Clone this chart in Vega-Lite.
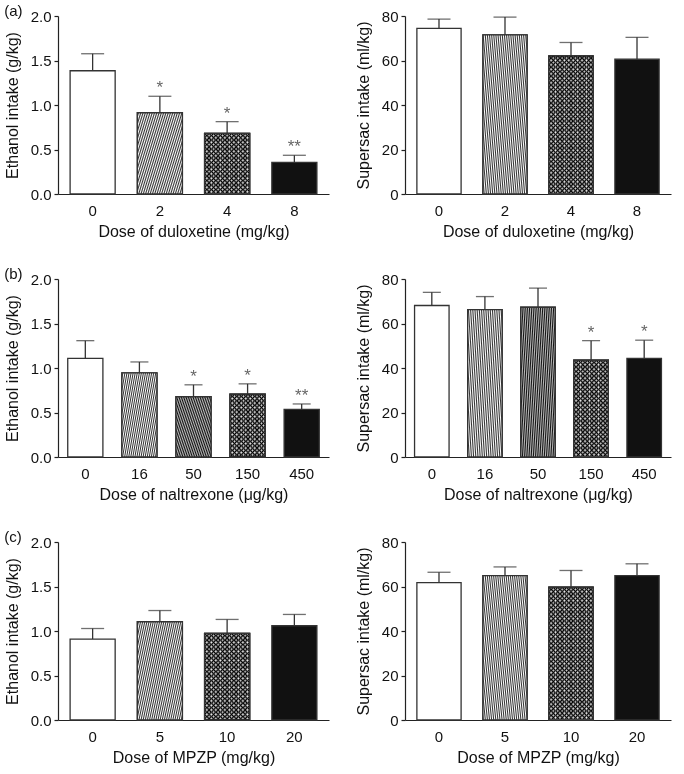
{
  "$schema": "https://vega.github.io/schema/vega-lite/v6.json",
  "padding": {"left": 4, "top": 4, "right": 2, "bottom": 2},
  "background": "white",
  "config": {
    "font": "Liberation Sans",
    "view": {"stroke": null},
    "axis": {"grid": false, "domainColor": "#222", "tickColor": "#222", "labelColor": "#111", "titleColor": "#111", "labelFontSize": 15, "titleFontSize": 16, "titleFontWeight": "normal", "labelFont": "Liberation Sans", "titleFont": "Liberation Sans", "domainWidth": 1.2, "tickWidth": 1.2},
    "axisX": {"ticks": false, "tickSize": 0, "labelPadding": 9, "titlePadding": 5, "labelAngle": 0},
    "axisY": {"tickSize": 4, "labelPadding": 3, "titlePadding": 10},
    "title": {"fontSize": 15, "fontWeight": "normal", "anchor": "start", "frame": "bounds", "color": "#111", "font": "Liberation Sans", "offset": -10}
  },
  "datasets": {
    "a_eth": [
      {"dose": "0", "mean": 1.385, "upper": 1.576, "star": ""},
      {"dose": "2", "mean": 0.913, "upper": 1.098, "star": "*"},
      {"dose": "4", "mean": 0.682, "upper": 0.813, "star": "*"},
      {"dose": "8", "mean": 0.356, "upper": 0.435, "star": "**"}
    ],
    "a_sup": [
      {"dose": "0", "mean": 74.4, "upper": 78.6, "star": ""},
      {"dose": "2", "mean": 71.5, "upper": 79.5, "star": ""},
      {"dose": "4", "mean": 62.1, "upper": 68.1, "star": ""},
      {"dose": "8", "mean": 60.6, "upper": 70.4, "star": ""}
    ],
    "b_eth": [
      {"dose": "0", "mean": 1.109, "upper": 1.307, "star": ""},
      {"dose": "16", "mean": 0.945, "upper": 1.068, "star": ""},
      {"dose": "50", "mean": 0.677, "upper": 0.811, "star": "*"},
      {"dose": "150", "mean": 0.707, "upper": 0.822, "star": "*"},
      {"dose": "450", "mean": 0.536, "upper": 0.596, "star": "**"}
    ],
    "b_sup": [
      {"dose": "0", "mean": 68.1, "upper": 74.0, "star": ""},
      {"dose": "16", "mean": 66.2, "upper": 72.1, "star": ""},
      {"dose": "50", "mean": 67.3, "upper": 75.9, "star": ""},
      {"dose": "150", "mean": 43.5, "upper": 52.3, "star": "*"},
      {"dose": "450", "mean": 44.3, "upper": 52.5, "star": "*"}
    ],
    "c_eth": [
      {"dose": "0", "mean": 0.909, "upper": 1.028, "star": ""},
      {"dose": "5", "mean": 1.104, "upper": 1.230, "star": ""},
      {"dose": "10", "mean": 0.973, "upper": 1.130, "star": ""},
      {"dose": "20", "mean": 1.059, "upper": 1.186, "star": ""}
    ],
    "c_sup": [
      {"dose": "0", "mean": 61.7, "upper": 66.4, "star": ""},
      {"dose": "5", "mean": 64.9, "upper": 68.8, "star": ""},
      {"dose": "10", "mean": 59.7, "upper": 67.2, "star": ""},
      {"dose": "20", "mean": 64.9, "upper": 70.2, "star": ""}
    ]
  },
  "spacing": 28,
  "resolve": {"scale": {"fill": "independent"}},
  "vconcat": [
    {
      "spacing": 26,
      "resolve": {"scale": {"fill": "independent"}},
      "hconcat": [
        {
          "width": 271, "height": 178,
          "title": {"text": "(a)"},
          "data": {"name": "a_eth"},
          "encoding": {"x": {"field": "dose", "type": "ordinal", "sort": null, "title": "Dose of duloxetine (mg/kg)", "scale": {"paddingInner": 0.33, "paddingOuter": 0.18}}},
          "layer": [
            {"mark": {"type": "rule", "color": "#333", "strokeWidth": 1.3}, "encoding": {"y": {"field": "mean", "type": "quantitative", "scale": {"domain": [0, 2]}, "title": "Ethanol intake (g/kg)"}, "y2": {"field": "upper"}}},
            {"mark": {"type": "tick", "color": "#333", "thickness": 1.3, "size": 23}, "encoding": {"y": {"field": "upper", "type": "quantitative", "scale": {"domain": [0, 2]}, "title": "Ethanol intake (g/kg)"}}},
            {"mark": {"type": "bar", "stroke": "#333", "strokeWidth": 1.3}, "encoding": {"y": {"field": "mean", "type": "quantitative", "scale": {"domain": [0, 2]}, "title": "Ethanol intake (g/kg)", "axis": {"values": [0, 0.5, 1, 1.5, 2], "format": ".1f"}}, "fill": {"field": "dose", "type": "nominal", "sort": null, "scale": {"range": ["#ffffff", "#a0a0a0", "#6b6b6b", "#111111"]}, "legend": null}}},
            {"transform": [{"filter": "datum.dose == '2'"}], "mark": {"type": "bar", "stroke": "#333", "strokeWidth": 1.3, "fill": {"gradient": "linear", "x1": 0, "y1": 0, "x2": 1.942, "y2": 1.076, "stops": [
              {"offset":0,"color":"#fff"},{"offset":0.01,"color":"#333"},{"offset":0.02,"color":"#fff"},{"offset":0.03,"color":"#333"},{"offset":0.04,"color":"#fff"},{"offset":0.05,"color":"#333"},{"offset":0.06,"color":"#fff"},{"offset":0.07,"color":"#333"},{"offset":0.08,"color":"#fff"},{"offset":0.09,"color":"#333"},
              {"offset":0.1,"color":"#fff"},{"offset":0.11,"color":"#333"},{"offset":0.12,"color":"#fff"},{"offset":0.13,"color":"#333"},{"offset":0.14,"color":"#fff"},{"offset":0.15,"color":"#333"},{"offset":0.16,"color":"#fff"},{"offset":0.17,"color":"#333"},{"offset":0.18,"color":"#fff"},{"offset":0.19,"color":"#333"},
              {"offset":0.2,"color":"#fff"},{"offset":0.21,"color":"#333"},{"offset":0.22,"color":"#fff"},{"offset":0.23,"color":"#333"},{"offset":0.24,"color":"#fff"},{"offset":0.25,"color":"#333"},{"offset":0.26,"color":"#fff"},{"offset":0.27,"color":"#333"},{"offset":0.28,"color":"#fff"},{"offset":0.29,"color":"#333"},
              {"offset":0.3,"color":"#fff"},{"offset":0.31,"color":"#333"},{"offset":0.32,"color":"#fff"},{"offset":0.33,"color":"#333"},{"offset":0.34,"color":"#fff"},{"offset":0.35,"color":"#333"},{"offset":0.36,"color":"#fff"},{"offset":0.37,"color":"#333"},{"offset":0.38,"color":"#fff"},{"offset":0.39,"color":"#333"},
              {"offset":0.4,"color":"#fff"},{"offset":0.41,"color":"#333"},{"offset":0.42,"color":"#fff"},{"offset":0.43,"color":"#333"},{"offset":0.44,"color":"#fff"},{"offset":0.45,"color":"#333"},{"offset":0.46,"color":"#fff"},{"offset":0.47,"color":"#333"},{"offset":0.48,"color":"#fff"},{"offset":0.49,"color":"#333"},
              {"offset":0.5,"color":"#fff"},{"offset":0.51,"color":"#333"},{"offset":0.52,"color":"#fff"},{"offset":0.53,"color":"#333"},{"offset":0.54,"color":"#fff"},{"offset":0.55,"color":"#333"},{"offset":0.56,"color":"#fff"},{"offset":0.57,"color":"#333"},{"offset":0.58,"color":"#fff"},{"offset":0.59,"color":"#333"},
              {"offset":0.6,"color":"#fff"},{"offset":0.61,"color":"#333"},{"offset":0.62,"color":"#fff"},{"offset":0.63,"color":"#333"},{"offset":0.64,"color":"#fff"},{"offset":0.65,"color":"#333"},{"offset":0.66,"color":"#fff"},{"offset":0.67,"color":"#333"},{"offset":0.68,"color":"#fff"},{"offset":0.69,"color":"#333"},
              {"offset":0.7,"color":"#fff"},{"offset":0.71,"color":"#333"},{"offset":0.72,"color":"#fff"},{"offset":0.73,"color":"#333"},{"offset":0.74,"color":"#fff"}
            ]}}, "encoding": {"y": {"field": "mean", "type": "quantitative", "scale": {"domain": [0, 2]}, "title": "Ethanol intake (g/kg)"}}},
            {"transform": [{"filter": "datum.dose == '4'"}], "mark": {"type": "bar", "stroke": "#333", "strokeWidth": 1.3, "fill": {"gradient": "linear", "x1": 0, "y1": 0, "x2": 1, "y2": 0, "stops": [
              {"offset":0,"color":"#000"},{"offset":0.05,"color":"#fff"},{"offset":0.1,"color":"#000"},{"offset":0.15,"color":"#fff"},{"offset":0.2,"color":"#000"},{"offset":0.25,"color":"#fff"},{"offset":0.3,"color":"#000"},{"offset":0.35,"color":"#fff"},{"offset":0.4,"color":"#000"},{"offset":0.45,"color":"#fff"},
              {"offset":0.5,"color":"#000"},{"offset":0.55,"color":"#fff"},{"offset":0.6,"color":"#000"},{"offset":0.65,"color":"#fff"},{"offset":0.7,"color":"#000"},{"offset":0.75,"color":"#fff"},{"offset":0.8,"color":"#000"},{"offset":0.85,"color":"#fff"},{"offset":0.9,"color":"#000"},{"offset":0.95,"color":"#fff"},{"offset":1,"color":"#000"}
            ]}}, "encoding": {"y": {"field": "mean", "type": "quantitative", "scale": {"domain": [0, 2]}, "title": "Ethanol intake (g/kg)"}}},
            {"transform": [{"filter": "datum.dose == '4'"}], "mark": {"type": "bar", "blend": "difference", "fill": {"gradient": "linear", "x1": 0, "y1": 0, "x2": 0, "y2": 3.707, "stops": [
              {"offset":0,"color":"#000"},{"offset":0.01,"color":"#ddd"},{"offset":0.02,"color":"#000"},{"offset":0.03,"color":"#ddd"},{"offset":0.04,"color":"#000"},{"offset":0.05,"color":"#ddd"},{"offset":0.06,"color":"#000"},{"offset":0.07,"color":"#ddd"},{"offset":0.08,"color":"#000"},{"offset":0.09,"color":"#ddd"},
              {"offset":0.1,"color":"#000"},{"offset":0.11,"color":"#ddd"},{"offset":0.12,"color":"#000"},{"offset":0.13,"color":"#ddd"},{"offset":0.14,"color":"#000"},{"offset":0.15,"color":"#ddd"},{"offset":0.16,"color":"#000"},{"offset":0.17,"color":"#ddd"},{"offset":0.18,"color":"#000"},{"offset":0.19,"color":"#ddd"},
              {"offset":0.2,"color":"#000"},{"offset":0.21,"color":"#ddd"},{"offset":0.22,"color":"#000"},{"offset":0.23,"color":"#ddd"},{"offset":0.24,"color":"#000"},{"offset":0.25,"color":"#ddd"},{"offset":0.26,"color":"#000"},{"offset":0.27,"color":"#ddd"},{"offset":0.28,"color":"#000"}
            ]}}, "encoding": {"y": {"field": "mean", "type": "quantitative", "scale": {"domain": [0, 2]}, "title": "Ethanol intake (g/kg)"}}},
            {"transform": [{"filter": "datum.dose == '4'"}], "mark": {"type": "bar", "stroke": "#333", "strokeWidth": 1.3, "fillOpacity": 0}, "encoding": {"y": {"field": "mean", "type": "quantitative", "scale": {"domain": [0, 2]}, "title": "Ethanol intake (g/kg)"}}},
            {"transform": [{"filter": "datum.star != ''"}], "mark": {"type": "text", "color": "#666", "fontSize": 17, "dy": -3, "baseline": "alphabetic"}, "encoding": {"y": {"field": "upper", "type": "quantitative", "scale": {"domain": [0, 2]}, "title": "Ethanol intake (g/kg)"}, "text": {"field": "star"}}}
          ]
        },
        {
          "width": 266, "height": 178,
          "title": {"text": " "},
          "data": {"name": "a_sup"},
          "encoding": {"x": {"field": "dose", "type": "ordinal", "sort": null, "title": "Dose of duloxetine (mg/kg)", "scale": {"paddingInner": 0.33, "paddingOuter": 0.18}}},
          "layer": [
            {"mark": {"type": "rule", "color": "#333", "strokeWidth": 1.3}, "encoding": {"y": {"field": "mean", "type": "quantitative", "scale": {"domain": [0, 80]}, "title": "Supersac intake (ml/kg)"}, "y2": {"field": "upper"}}},
            {"mark": {"type": "tick", "color": "#333", "thickness": 1.3, "size": 23}, "encoding": {"y": {"field": "upper", "type": "quantitative", "scale": {"domain": [0, 80]}, "title": "Supersac intake (ml/kg)"}}},
            {"mark": {"type": "bar", "stroke": "#333", "strokeWidth": 1.3}, "encoding": {"y": {"field": "mean", "type": "quantitative", "scale": {"domain": [0, 80]}, "title": "Supersac intake (ml/kg)", "axis": {"values": [0, 20, 40, 60, 80]}}, "fill": {"field": "dose", "type": "nominal", "sort": null, "scale": {"range": ["#ffffff", "#a0a0a0", "#6b6b6b", "#111111"]}, "legend": null}}},
            {"transform": [{"filter": "datum.dose == '2'"}], "mark": {"type": "bar", "stroke": "#333", "strokeWidth": 1.3, "fill": {"gradient": "linear", "x1": 0, "y1": 0, "x2": 2.475, "y2": 0.687, "stops": [
              {"offset":0,"color":"#fff"},{"offset":0.008,"color":"#333"},{"offset":0.016,"color":"#fff"},{"offset":0.024,"color":"#333"},{"offset":0.032,"color":"#fff"},{"offset":0.04,"color":"#333"},{"offset":0.048,"color":"#fff"},{"offset":0.056,"color":"#333"},{"offset":0.064,"color":"#fff"},{"offset":0.072,"color":"#333"},
              {"offset":0.08,"color":"#fff"},{"offset":0.088,"color":"#333"},{"offset":0.096,"color":"#fff"},{"offset":0.104,"color":"#333"},{"offset":0.112,"color":"#fff"},{"offset":0.12,"color":"#333"},{"offset":0.128,"color":"#fff"},{"offset":0.136,"color":"#333"},{"offset":0.144,"color":"#fff"},{"offset":0.152,"color":"#333"},
              {"offset":0.16,"color":"#fff"},{"offset":0.168,"color":"#333"},{"offset":0.176,"color":"#fff"},{"offset":0.184,"color":"#333"},{"offset":0.192,"color":"#fff"},{"offset":0.2,"color":"#333"},{"offset":0.208,"color":"#fff"},{"offset":0.216,"color":"#333"},{"offset":0.224,"color":"#fff"},{"offset":0.232,"color":"#333"},
              {"offset":0.24,"color":"#fff"},{"offset":0.248,"color":"#333"},{"offset":0.256,"color":"#fff"},{"offset":0.264,"color":"#333"},{"offset":0.272,"color":"#fff"},{"offset":0.28,"color":"#333"},{"offset":0.288,"color":"#fff"},{"offset":0.296,"color":"#333"},{"offset":0.304,"color":"#fff"},{"offset":0.312,"color":"#333"},
              {"offset":0.32,"color":"#fff"},{"offset":0.328,"color":"#333"},{"offset":0.336,"color":"#fff"},{"offset":0.344,"color":"#333"},{"offset":0.352,"color":"#fff"},{"offset":0.36,"color":"#333"},{"offset":0.368,"color":"#fff"},{"offset":0.376,"color":"#333"},{"offset":0.384,"color":"#fff"},{"offset":0.392,"color":"#333"},
              {"offset":0.4,"color":"#fff"},{"offset":0.408,"color":"#333"},{"offset":0.416,"color":"#fff"},{"offset":0.424,"color":"#333"},{"offset":0.432,"color":"#fff"},{"offset":0.44,"color":"#333"},{"offset":0.448,"color":"#fff"},{"offset":0.456,"color":"#333"},{"offset":0.464,"color":"#fff"},{"offset":0.472,"color":"#333"},
              {"offset":0.48,"color":"#fff"},{"offset":0.488,"color":"#333"},{"offset":0.496,"color":"#fff"},{"offset":0.504,"color":"#333"},{"offset":0.512,"color":"#fff"},{"offset":0.52,"color":"#333"},{"offset":0.528,"color":"#fff"},{"offset":0.536,"color":"#333"},{"offset":0.544,"color":"#fff"},{"offset":0.552,"color":"#333"},
              {"offset":0.56,"color":"#fff"},{"offset":0.568,"color":"#333"},{"offset":0.576,"color":"#fff"},{"offset":0.584,"color":"#333"},{"offset":0.592,"color":"#fff"},{"offset":0.6,"color":"#333"},{"offset":0.608,"color":"#fff"},{"offset":0.616,"color":"#333"},{"offset":0.624,"color":"#fff"},{"offset":0.632,"color":"#333"},
              {"offset":0.64,"color":"#fff"},{"offset":0.648,"color":"#333"},{"offset":0.656,"color":"#fff"},{"offset":0.664,"color":"#333"},{"offset":0.672,"color":"#fff"},{"offset":0.68,"color":"#333"},{"offset":0.688,"color":"#fff"},{"offset":0.696,"color":"#333"},{"offset":0.704,"color":"#fff"},{"offset":0.712,"color":"#333"},
              {"offset":0.72,"color":"#fff"},{"offset":0.728,"color":"#333"},{"offset":0.736,"color":"#fff"},{"offset":0.744,"color":"#333"},{"offset":0.752,"color":"#fff"},{"offset":0.76,"color":"#333"},{"offset":0.768,"color":"#fff"},{"offset":0.776,"color":"#333"},{"offset":0.784,"color":"#fff"},{"offset":0.792,"color":"#333"},
              {"offset":0.8,"color":"#fff"},{"offset":0.808,"color":"#333"},{"offset":0.816,"color":"#fff"},{"offset":0.824,"color":"#333"},{"offset":0.832,"color":"#fff"},{"offset":0.84,"color":"#333"},{"offset":0.848,"color":"#fff"},{"offset":0.856,"color":"#333"},{"offset":0.864,"color":"#fff"},{"offset":0.872,"color":"#333"},
              {"offset":0.88,"color":"#fff"},{"offset":0.888,"color":"#333"},{"offset":0.896,"color":"#fff"},{"offset":0.904,"color":"#333"},{"offset":0.912,"color":"#fff"},{"offset":0.92,"color":"#333"},{"offset":0.928,"color":"#fff"},{"offset":0.936,"color":"#333"},{"offset":0.944,"color":"#fff"},{"offset":0.952,"color":"#333"}
            ]}}, "encoding": {"y": {"field": "mean", "type": "quantitative", "scale": {"domain": [0, 80]}, "title": "Supersac intake (ml/kg)"}}},
            {"transform": [{"filter": "datum.dose == '4'"}], "mark": {"type": "bar", "stroke": "#333", "strokeWidth": 1.3, "fill": {"gradient": "linear", "x1": 0, "y1": 0, "x2": 1, "y2": 0, "stops": [
              {"offset":0,"color":"#000"},{"offset":0.05,"color":"#fff"},{"offset":0.1,"color":"#000"},{"offset":0.15,"color":"#fff"},{"offset":0.2,"color":"#000"},{"offset":0.25,"color":"#fff"},{"offset":0.3,"color":"#000"},{"offset":0.35,"color":"#fff"},{"offset":0.4,"color":"#000"},{"offset":0.45,"color":"#fff"},
              {"offset":0.5,"color":"#000"},{"offset":0.55,"color":"#fff"},{"offset":0.6,"color":"#000"},{"offset":0.65,"color":"#fff"},{"offset":0.7,"color":"#000"},{"offset":0.75,"color":"#fff"},{"offset":0.8,"color":"#000"},{"offset":0.85,"color":"#fff"},{"offset":0.9,"color":"#000"},{"offset":0.95,"color":"#fff"},{"offset":1,"color":"#000"}
            ]}}, "encoding": {"y": {"field": "mean", "type": "quantitative", "scale": {"domain": [0, 80]}, "title": "Supersac intake (ml/kg)"}}},
            {"transform": [{"filter": "datum.dose == '4'"}], "mark": {"type": "bar", "blend": "difference", "fill": {"gradient": "linear", "x1": 0, "y1": 0, "x2": 0, "y2": 1.628, "stops": [
              {"offset":0,"color":"#000"},{"offset":0.01,"color":"#ddd"},{"offset":0.02,"color":"#000"},{"offset":0.03,"color":"#ddd"},{"offset":0.04,"color":"#000"},{"offset":0.05,"color":"#ddd"},{"offset":0.06,"color":"#000"},{"offset":0.07,"color":"#ddd"},{"offset":0.08,"color":"#000"},{"offset":0.09,"color":"#ddd"},
              {"offset":0.1,"color":"#000"},{"offset":0.11,"color":"#ddd"},{"offset":0.12,"color":"#000"},{"offset":0.13,"color":"#ddd"},{"offset":0.14,"color":"#000"},{"offset":0.15,"color":"#ddd"},{"offset":0.16,"color":"#000"},{"offset":0.17,"color":"#ddd"},{"offset":0.18,"color":"#000"},{"offset":0.19,"color":"#ddd"},
              {"offset":0.2,"color":"#000"},{"offset":0.21,"color":"#ddd"},{"offset":0.22,"color":"#000"},{"offset":0.23,"color":"#ddd"},{"offset":0.24,"color":"#000"},{"offset":0.25,"color":"#ddd"},{"offset":0.26,"color":"#000"},{"offset":0.27,"color":"#ddd"},{"offset":0.28,"color":"#000"},{"offset":0.29,"color":"#ddd"},
              {"offset":0.3,"color":"#000"},{"offset":0.31,"color":"#ddd"},{"offset":0.32,"color":"#000"},{"offset":0.33,"color":"#ddd"},{"offset":0.34,"color":"#000"},{"offset":0.35,"color":"#ddd"},{"offset":0.36,"color":"#000"},{"offset":0.37,"color":"#ddd"},{"offset":0.38,"color":"#000"},{"offset":0.39,"color":"#ddd"},
              {"offset":0.4,"color":"#000"},{"offset":0.41,"color":"#ddd"},{"offset":0.42,"color":"#000"},{"offset":0.43,"color":"#ddd"},{"offset":0.44,"color":"#000"},{"offset":0.45,"color":"#ddd"},{"offset":0.46,"color":"#000"},{"offset":0.47,"color":"#ddd"},{"offset":0.48,"color":"#000"},{"offset":0.49,"color":"#ddd"},
              {"offset":0.5,"color":"#000"},{"offset":0.51,"color":"#ddd"},{"offset":0.52,"color":"#000"},{"offset":0.53,"color":"#ddd"},{"offset":0.54,"color":"#000"},{"offset":0.55,"color":"#ddd"},{"offset":0.56,"color":"#000"},{"offset":0.57,"color":"#ddd"},{"offset":0.58,"color":"#000"},{"offset":0.59,"color":"#ddd"},
              {"offset":0.6,"color":"#000"},{"offset":0.61,"color":"#ddd"},{"offset":0.62,"color":"#000"}
            ]}}, "encoding": {"y": {"field": "mean", "type": "quantitative", "scale": {"domain": [0, 80]}, "title": "Supersac intake (ml/kg)"}}},
            {"transform": [{"filter": "datum.dose == '4'"}], "mark": {"type": "bar", "stroke": "#333", "strokeWidth": 1.3, "fillOpacity": 0}, "encoding": {"y": {"field": "mean", "type": "quantitative", "scale": {"domain": [0, 80]}, "title": "Supersac intake (ml/kg)"}}}
          ]
        }
      ]
    },
    {
      "spacing": 26,
      "resolve": {"scale": {"fill": "independent"}},
      "hconcat": [
        {
          "width": 271, "height": 178,
          "title": {"text": "(b)"},
          "data": {"name": "b_eth"},
          "encoding": {"x": {"field": "dose", "type": "ordinal", "sort": null, "title": "Dose of naltrexone (μg/kg)", "scale": {"paddingInner": 0.35, "paddingOuter": 0.18}}},
          "layer": [
            {"mark": {"type": "rule", "color": "#333", "strokeWidth": 1.3}, "encoding": {"y": {"field": "mean", "type": "quantitative", "scale": {"domain": [0, 2]}, "title": "Ethanol intake (g/kg)"}, "y2": {"field": "upper"}}},
            {"mark": {"type": "tick", "color": "#333", "thickness": 1.3, "size": 18}, "encoding": {"y": {"field": "upper", "type": "quantitative", "scale": {"domain": [0, 2]}, "title": "Ethanol intake (g/kg)"}}},
            {"mark": {"type": "bar", "stroke": "#333", "strokeWidth": 1.3}, "encoding": {"y": {"field": "mean", "type": "quantitative", "scale": {"domain": [0, 2]}, "title": "Ethanol intake (g/kg)", "axis": {"values": [0, 0.5, 1, 1.5, 2], "format": ".1f"}}, "fill": {"field": "dose", "type": "nominal", "sort": null, "scale": {"range": ["#ffffff", "#a0a0a0", "#474747", "#6b6b6b", "#111111"]}, "legend": null}}},
            {"transform": [{"filter": "datum.dose == '16'"}], "mark": {"type": "bar", "stroke": "#333", "strokeWidth": 1.3, "fill": {"gradient": "linear", "x1": 0, "y1": 0, "x2": 2.489, "y2": 1.040, "stops": [
              {"offset":0,"color":"#fff"},{"offset":0.01,"color":"#333"},{"offset":0.02,"color":"#fff"},{"offset":0.03,"color":"#333"},{"offset":0.04,"color":"#fff"},{"offset":0.05,"color":"#333"},{"offset":0.06,"color":"#fff"},{"offset":0.07,"color":"#333"},{"offset":0.08,"color":"#fff"},{"offset":0.09,"color":"#333"},
              {"offset":0.1,"color":"#fff"},{"offset":0.11,"color":"#333"},{"offset":0.12,"color":"#fff"},{"offset":0.13,"color":"#333"},{"offset":0.14,"color":"#fff"},{"offset":0.15,"color":"#333"},{"offset":0.16,"color":"#fff"},{"offset":0.17,"color":"#333"},{"offset":0.18,"color":"#fff"},{"offset":0.19,"color":"#333"},
              {"offset":0.2,"color":"#fff"},{"offset":0.21,"color":"#333"},{"offset":0.22,"color":"#fff"},{"offset":0.23,"color":"#333"},{"offset":0.24,"color":"#fff"},{"offset":0.25,"color":"#333"},{"offset":0.26,"color":"#fff"},{"offset":0.27,"color":"#333"},{"offset":0.28,"color":"#fff"},{"offset":0.29,"color":"#333"},
              {"offset":0.3,"color":"#fff"},{"offset":0.31,"color":"#333"},{"offset":0.32,"color":"#fff"},{"offset":0.33,"color":"#333"},{"offset":0.34,"color":"#fff"},{"offset":0.35,"color":"#333"},{"offset":0.36,"color":"#fff"},{"offset":0.37,"color":"#333"},{"offset":0.38,"color":"#fff"},{"offset":0.39,"color":"#333"},
              {"offset":0.4,"color":"#fff"},{"offset":0.41,"color":"#333"},{"offset":0.42,"color":"#fff"},{"offset":0.43,"color":"#333"},{"offset":0.44,"color":"#fff"},{"offset":0.45,"color":"#333"},{"offset":0.46,"color":"#fff"},{"offset":0.47,"color":"#333"},{"offset":0.48,"color":"#fff"},{"offset":0.49,"color":"#333"},
              {"offset":0.5,"color":"#fff"},{"offset":0.51,"color":"#333"},{"offset":0.52,"color":"#fff"},{"offset":0.53,"color":"#333"},{"offset":0.54,"color":"#fff"},{"offset":0.55,"color":"#333"},{"offset":0.56,"color":"#fff"},{"offset":0.57,"color":"#333"},{"offset":0.58,"color":"#fff"},{"offset":0.59,"color":"#333"},
              {"offset":0.6,"color":"#fff"},{"offset":0.61,"color":"#333"},{"offset":0.62,"color":"#fff"},{"offset":0.63,"color":"#333"},{"offset":0.64,"color":"#fff"},{"offset":0.65,"color":"#333"},{"offset":0.66,"color":"#fff"},{"offset":0.67,"color":"#333"},{"offset":0.68,"color":"#fff"},{"offset":0.69,"color":"#333"},
              {"offset":0.7,"color":"#fff"}
            ]}}, "encoding": {"y": {"field": "mean", "type": "quantitative", "scale": {"domain": [0, 2]}, "title": "Ethanol intake (g/kg)"}}},
            {"transform": [{"filter": "datum.dose == '50'"}], "mark": {"type": "bar", "stroke": "#333", "strokeWidth": 1.3, "fill": {"gradient": "linear", "x1": 0, "y1": 1, "x2": 2.489, "y2": -0.452, "stops": [
              {"offset":0,"color":"#111"},{"offset":0.01,"color":"#bbb"},{"offset":0.02,"color":"#111"},{"offset":0.03,"color":"#bbb"},{"offset":0.04,"color":"#111"},{"offset":0.05,"color":"#bbb"},{"offset":0.06,"color":"#111"},{"offset":0.07,"color":"#bbb"},{"offset":0.08,"color":"#111"},{"offset":0.09,"color":"#bbb"},
              {"offset":0.1,"color":"#111"},{"offset":0.11,"color":"#bbb"},{"offset":0.12,"color":"#111"},{"offset":0.13,"color":"#bbb"},{"offset":0.14,"color":"#111"},{"offset":0.15,"color":"#bbb"},{"offset":0.16,"color":"#111"},{"offset":0.17,"color":"#bbb"},{"offset":0.18,"color":"#111"},{"offset":0.19,"color":"#bbb"},
              {"offset":0.2,"color":"#111"},{"offset":0.21,"color":"#bbb"},{"offset":0.22,"color":"#111"},{"offset":0.23,"color":"#bbb"},{"offset":0.24,"color":"#111"},{"offset":0.25,"color":"#bbb"},{"offset":0.26,"color":"#111"},{"offset":0.27,"color":"#bbb"},{"offset":0.28,"color":"#111"},{"offset":0.29,"color":"#bbb"},
              {"offset":0.3,"color":"#111"},{"offset":0.31,"color":"#bbb"},{"offset":0.32,"color":"#111"},{"offset":0.33,"color":"#bbb"},{"offset":0.34,"color":"#111"},{"offset":0.35,"color":"#bbb"},{"offset":0.36,"color":"#111"},{"offset":0.37,"color":"#bbb"},{"offset":0.38,"color":"#111"},{"offset":0.39,"color":"#bbb"},
              {"offset":0.4,"color":"#111"},{"offset":0.41,"color":"#bbb"},{"offset":0.42,"color":"#111"},{"offset":0.43,"color":"#bbb"},{"offset":0.44,"color":"#111"},{"offset":0.45,"color":"#bbb"},{"offset":0.46,"color":"#111"},{"offset":0.47,"color":"#bbb"},{"offset":0.48,"color":"#111"},{"offset":0.49,"color":"#bbb"},
              {"offset":0.5,"color":"#111"},{"offset":0.51,"color":"#bbb"},{"offset":0.52,"color":"#111"},{"offset":0.53,"color":"#bbb"},{"offset":0.54,"color":"#111"},{"offset":0.55,"color":"#bbb"},{"offset":0.56,"color":"#111"}
            ]}}, "encoding": {"y": {"field": "mean", "type": "quantitative", "scale": {"domain": [0, 2]}, "title": "Ethanol intake (g/kg)"}}},
            {"transform": [{"filter": "datum.dose == '150'"}], "mark": {"type": "bar", "stroke": "#333", "strokeWidth": 1.3, "fill": {"gradient": "linear", "x1": 0, "y1": 0, "x2": 1.28, "y2": 0, "stops": [
              {"offset":0,"color":"#000"},{"offset":0.05,"color":"#fff"},{"offset":0.1,"color":"#000"},{"offset":0.15,"color":"#fff"},{"offset":0.2,"color":"#000"},{"offset":0.25,"color":"#fff"},{"offset":0.3,"color":"#000"},{"offset":0.35,"color":"#fff"},{"offset":0.4,"color":"#000"},{"offset":0.45,"color":"#fff"},
              {"offset":0.5,"color":"#000"},{"offset":0.55,"color":"#fff"},{"offset":0.6,"color":"#000"},{"offset":0.65,"color":"#fff"},{"offset":0.7,"color":"#000"},{"offset":0.75,"color":"#fff"},{"offset":0.8,"color":"#000"}
            ]}}, "encoding": {"y": {"field": "mean", "type": "quantitative", "scale": {"domain": [0, 2]}, "title": "Ethanol intake (g/kg)"}}},
            {"transform": [{"filter": "datum.dose == '150'"}], "mark": {"type": "bar", "blend": "difference", "fill": {"gradient": "linear", "x1": 0, "y1": 0, "x2": 0, "y2": 3.577, "stops": [
              {"offset":0,"color":"#000"},{"offset":0.01,"color":"#ddd"},{"offset":0.02,"color":"#000"},{"offset":0.03,"color":"#ddd"},{"offset":0.04,"color":"#000"},{"offset":0.05,"color":"#ddd"},{"offset":0.06,"color":"#000"},{"offset":0.07,"color":"#ddd"},{"offset":0.08,"color":"#000"},{"offset":0.09,"color":"#ddd"},
              {"offset":0.1,"color":"#000"},{"offset":0.11,"color":"#ddd"},{"offset":0.12,"color":"#000"},{"offset":0.13,"color":"#ddd"},{"offset":0.14,"color":"#000"},{"offset":0.15,"color":"#ddd"},{"offset":0.16,"color":"#000"},{"offset":0.17,"color":"#ddd"},{"offset":0.18,"color":"#000"},{"offset":0.19,"color":"#ddd"},
              {"offset":0.2,"color":"#000"},{"offset":0.21,"color":"#ddd"},{"offset":0.22,"color":"#000"},{"offset":0.23,"color":"#ddd"},{"offset":0.24,"color":"#000"},{"offset":0.25,"color":"#ddd"},{"offset":0.26,"color":"#000"},{"offset":0.27,"color":"#ddd"},{"offset":0.28,"color":"#000"},{"offset":0.29,"color":"#ddd"},
              {"offset":0.3,"color":"#000"}
            ]}}, "encoding": {"y": {"field": "mean", "type": "quantitative", "scale": {"domain": [0, 2]}, "title": "Ethanol intake (g/kg)"}}},
            {"transform": [{"filter": "datum.dose == '150'"}], "mark": {"type": "bar", "stroke": "#333", "strokeWidth": 1.3, "fillOpacity": 0}, "encoding": {"y": {"field": "mean", "type": "quantitative", "scale": {"domain": [0, 2]}, "title": "Ethanol intake (g/kg)"}}},
            {"transform": [{"filter": "datum.star != ''"}], "mark": {"type": "text", "color": "#666", "fontSize": 17, "dy": -3, "baseline": "alphabetic"}, "encoding": {"y": {"field": "upper", "type": "quantitative", "scale": {"domain": [0, 2]}, "title": "Ethanol intake (g/kg)"}, "text": {"field": "star"}}}
          ]
        },
        {
          "width": 266, "height": 178,
          "title": {"text": " "},
          "data": {"name": "b_sup"},
          "encoding": {"x": {"field": "dose", "type": "ordinal", "sort": null, "title": "Dose of naltrexone (μg/kg)", "scale": {"paddingInner": 0.35, "paddingOuter": 0.18}}},
          "layer": [
            {"mark": {"type": "rule", "color": "#333", "strokeWidth": 1.3}, "encoding": {"y": {"field": "mean", "type": "quantitative", "scale": {"domain": [0, 80]}, "title": "Supersac intake (ml/kg)"}, "y2": {"field": "upper"}}},
            {"mark": {"type": "tick", "color": "#333", "thickness": 1.3, "size": 18}, "encoding": {"y": {"field": "upper", "type": "quantitative", "scale": {"domain": [0, 80]}, "title": "Supersac intake (ml/kg)"}}},
            {"mark": {"type": "bar", "stroke": "#333", "strokeWidth": 1.3}, "encoding": {"y": {"field": "mean", "type": "quantitative", "scale": {"domain": [0, 80]}, "title": "Supersac intake (ml/kg)", "axis": {"values": [0, 20, 40, 60, 80]}}, "fill": {"field": "dose", "type": "nominal", "sort": null, "scale": {"range": ["#ffffff", "#a0a0a0", "#474747", "#6b6b6b", "#111111"]}, "legend": null}}},
            {"transform": [{"filter": "datum.dose == '16'"}], "mark": {"type": "bar", "stroke": "#333", "strokeWidth": 1.3, "fill": {"gradient": "linear", "x1": 0, "y1": 0, "x2": 3.169, "y2": 0.743, "stops": [
              {"offset":0,"color":"#fff"},{"offset":0.008,"color":"#333"},{"offset":0.016,"color":"#fff"},{"offset":0.024,"color":"#333"},{"offset":0.032,"color":"#fff"},{"offset":0.04,"color":"#333"},{"offset":0.048,"color":"#fff"},{"offset":0.056,"color":"#333"},{"offset":0.064,"color":"#fff"},{"offset":0.072,"color":"#333"},
              {"offset":0.08,"color":"#fff"},{"offset":0.088,"color":"#333"},{"offset":0.096,"color":"#fff"},{"offset":0.104,"color":"#333"},{"offset":0.112,"color":"#fff"},{"offset":0.12,"color":"#333"},{"offset":0.128,"color":"#fff"},{"offset":0.136,"color":"#333"},{"offset":0.144,"color":"#fff"},{"offset":0.152,"color":"#333"},
              {"offset":0.16,"color":"#fff"},{"offset":0.168,"color":"#333"},{"offset":0.176,"color":"#fff"},{"offset":0.184,"color":"#333"},{"offset":0.192,"color":"#fff"},{"offset":0.2,"color":"#333"},{"offset":0.208,"color":"#fff"},{"offset":0.216,"color":"#333"},{"offset":0.224,"color":"#fff"},{"offset":0.232,"color":"#333"},
              {"offset":0.24,"color":"#fff"},{"offset":0.248,"color":"#333"},{"offset":0.256,"color":"#fff"},{"offset":0.264,"color":"#333"},{"offset":0.272,"color":"#fff"},{"offset":0.28,"color":"#333"},{"offset":0.288,"color":"#fff"},{"offset":0.296,"color":"#333"},{"offset":0.304,"color":"#fff"},{"offset":0.312,"color":"#333"},
              {"offset":0.32,"color":"#fff"},{"offset":0.328,"color":"#333"},{"offset":0.336,"color":"#fff"},{"offset":0.344,"color":"#333"},{"offset":0.352,"color":"#fff"},{"offset":0.36,"color":"#333"},{"offset":0.368,"color":"#fff"},{"offset":0.376,"color":"#333"},{"offset":0.384,"color":"#fff"},{"offset":0.392,"color":"#333"},
              {"offset":0.4,"color":"#fff"},{"offset":0.408,"color":"#333"},{"offset":0.416,"color":"#fff"},{"offset":0.424,"color":"#333"},{"offset":0.432,"color":"#fff"},{"offset":0.44,"color":"#333"},{"offset":0.448,"color":"#fff"},{"offset":0.456,"color":"#333"},{"offset":0.464,"color":"#fff"},{"offset":0.472,"color":"#333"},
              {"offset":0.48,"color":"#fff"},{"offset":0.488,"color":"#333"},{"offset":0.496,"color":"#fff"},{"offset":0.504,"color":"#333"},{"offset":0.512,"color":"#fff"},{"offset":0.52,"color":"#333"},{"offset":0.528,"color":"#fff"},{"offset":0.536,"color":"#333"},{"offset":0.544,"color":"#fff"},{"offset":0.552,"color":"#333"},
              {"offset":0.56,"color":"#fff"},{"offset":0.568,"color":"#333"},{"offset":0.576,"color":"#fff"},{"offset":0.584,"color":"#333"},{"offset":0.592,"color":"#fff"},{"offset":0.6,"color":"#333"},{"offset":0.608,"color":"#fff"},{"offset":0.616,"color":"#333"},{"offset":0.624,"color":"#fff"},{"offset":0.632,"color":"#333"},
              {"offset":0.64,"color":"#fff"},{"offset":0.648,"color":"#333"},{"offset":0.656,"color":"#fff"},{"offset":0.664,"color":"#333"},{"offset":0.672,"color":"#fff"},{"offset":0.68,"color":"#333"},{"offset":0.688,"color":"#fff"},{"offset":0.696,"color":"#333"},{"offset":0.704,"color":"#fff"},{"offset":0.712,"color":"#333"},
              {"offset":0.72,"color":"#fff"},{"offset":0.728,"color":"#333"},{"offset":0.736,"color":"#fff"},{"offset":0.744,"color":"#333"},{"offset":0.752,"color":"#fff"},{"offset":0.76,"color":"#333"},{"offset":0.768,"color":"#fff"},{"offset":0.776,"color":"#333"},{"offset":0.784,"color":"#fff"},{"offset":0.792,"color":"#333"},
              {"offset":0.8,"color":"#fff"},{"offset":0.808,"color":"#333"},{"offset":0.816,"color":"#fff"},{"offset":0.824,"color":"#333"},{"offset":0.832,"color":"#fff"},{"offset":0.84,"color":"#333"},{"offset":0.848,"color":"#fff"},{"offset":0.856,"color":"#333"},{"offset":0.864,"color":"#fff"},{"offset":0.872,"color":"#333"},
              {"offset":0.88,"color":"#fff"},{"offset":0.888,"color":"#333"},{"offset":0.896,"color":"#fff"},{"offset":0.904,"color":"#333"},{"offset":0.912,"color":"#fff"},{"offset":0.92,"color":"#333"},{"offset":0.928,"color":"#fff"},{"offset":0.936,"color":"#333"},{"offset":0.944,"color":"#fff"},{"offset":0.952,"color":"#333"}
            ]}}, "encoding": {"y": {"field": "mean", "type": "quantitative", "scale": {"domain": [0, 80]}, "title": "Supersac intake (ml/kg)"}}},
            {"transform": [{"filter": "datum.dose == '50'"}], "mark": {"type": "bar", "stroke": "#333", "strokeWidth": 1.3, "fill": {"gradient": "linear", "x1": 0, "y1": 1, "x2": 3.169, "y2": 0.269, "stops": [
              {"offset":0,"color":"#111"},{"offset":0.008,"color":"#bbb"},{"offset":0.016,"color":"#111"},{"offset":0.024,"color":"#bbb"},{"offset":0.032,"color":"#111"},{"offset":0.04,"color":"#bbb"},{"offset":0.048,"color":"#111"},{"offset":0.056,"color":"#bbb"},{"offset":0.064,"color":"#111"},{"offset":0.072,"color":"#bbb"},
              {"offset":0.08,"color":"#111"},{"offset":0.088,"color":"#bbb"},{"offset":0.096,"color":"#111"},{"offset":0.104,"color":"#bbb"},{"offset":0.112,"color":"#111"},{"offset":0.12,"color":"#bbb"},{"offset":0.128,"color":"#111"},{"offset":0.136,"color":"#bbb"},{"offset":0.144,"color":"#111"},{"offset":0.152,"color":"#bbb"},
              {"offset":0.16,"color":"#111"},{"offset":0.168,"color":"#bbb"},{"offset":0.176,"color":"#111"},{"offset":0.184,"color":"#bbb"},{"offset":0.192,"color":"#111"},{"offset":0.2,"color":"#bbb"},{"offset":0.208,"color":"#111"},{"offset":0.216,"color":"#bbb"},{"offset":0.224,"color":"#111"},{"offset":0.232,"color":"#bbb"},
              {"offset":0.24,"color":"#111"},{"offset":0.248,"color":"#bbb"},{"offset":0.256,"color":"#111"},{"offset":0.264,"color":"#bbb"},{"offset":0.272,"color":"#111"},{"offset":0.28,"color":"#bbb"},{"offset":0.288,"color":"#111"},{"offset":0.296,"color":"#bbb"},{"offset":0.304,"color":"#111"},{"offset":0.312,"color":"#bbb"},
              {"offset":0.32,"color":"#111"},{"offset":0.328,"color":"#bbb"},{"offset":0.336,"color":"#111"},{"offset":0.344,"color":"#bbb"},{"offset":0.352,"color":"#111"},{"offset":0.36,"color":"#bbb"},{"offset":0.368,"color":"#111"},{"offset":0.376,"color":"#bbb"},{"offset":0.384,"color":"#111"},{"offset":0.392,"color":"#bbb"},
              {"offset":0.4,"color":"#111"},{"offset":0.408,"color":"#bbb"},{"offset":0.416,"color":"#111"},{"offset":0.424,"color":"#bbb"},{"offset":0.432,"color":"#111"},{"offset":0.44,"color":"#bbb"},{"offset":0.448,"color":"#111"},{"offset":0.456,"color":"#bbb"},{"offset":0.464,"color":"#111"},{"offset":0.472,"color":"#bbb"},
              {"offset":0.48,"color":"#111"},{"offset":0.488,"color":"#bbb"},{"offset":0.496,"color":"#111"},{"offset":0.504,"color":"#bbb"},{"offset":0.512,"color":"#111"},{"offset":0.52,"color":"#bbb"},{"offset":0.528,"color":"#111"},{"offset":0.536,"color":"#bbb"},{"offset":0.544,"color":"#111"},{"offset":0.552,"color":"#bbb"},
              {"offset":0.56,"color":"#111"},{"offset":0.568,"color":"#bbb"},{"offset":0.576,"color":"#111"},{"offset":0.584,"color":"#bbb"},{"offset":0.592,"color":"#111"},{"offset":0.6,"color":"#bbb"},{"offset":0.608,"color":"#111"},{"offset":0.616,"color":"#bbb"},{"offset":0.624,"color":"#111"},{"offset":0.632,"color":"#bbb"},
              {"offset":0.64,"color":"#111"},{"offset":0.648,"color":"#bbb"},{"offset":0.656,"color":"#111"},{"offset":0.664,"color":"#bbb"},{"offset":0.672,"color":"#111"},{"offset":0.68,"color":"#bbb"},{"offset":0.688,"color":"#111"},{"offset":0.696,"color":"#bbb"},{"offset":0.704,"color":"#111"},{"offset":0.712,"color":"#bbb"},
              {"offset":0.72,"color":"#111"},{"offset":0.728,"color":"#bbb"},{"offset":0.736,"color":"#111"},{"offset":0.744,"color":"#bbb"},{"offset":0.752,"color":"#111"},{"offset":0.76,"color":"#bbb"},{"offset":0.768,"color":"#111"},{"offset":0.776,"color":"#bbb"},{"offset":0.784,"color":"#111"},{"offset":0.792,"color":"#bbb"},
              {"offset":0.8,"color":"#111"},{"offset":0.808,"color":"#bbb"},{"offset":0.816,"color":"#111"},{"offset":0.824,"color":"#bbb"},{"offset":0.832,"color":"#111"},{"offset":0.84,"color":"#bbb"},{"offset":0.848,"color":"#111"},{"offset":0.856,"color":"#bbb"},{"offset":0.864,"color":"#111"},{"offset":0.872,"color":"#bbb"},
              {"offset":0.88,"color":"#111"},{"offset":0.888,"color":"#bbb"},{"offset":0.896,"color":"#111"},{"offset":0.904,"color":"#bbb"},{"offset":0.912,"color":"#111"},{"offset":0.92,"color":"#bbb"},{"offset":0.928,"color":"#111"},{"offset":0.936,"color":"#bbb"},{"offset":0.944,"color":"#111"},{"offset":0.952,"color":"#bbb"}
            ]}}, "encoding": {"y": {"field": "mean", "type": "quantitative", "scale": {"domain": [0, 80]}, "title": "Supersac intake (ml/kg)"}}},
            {"transform": [{"filter": "datum.dose == '150'"}], "mark": {"type": "bar", "stroke": "#333", "strokeWidth": 1.3, "fill": {"gradient": "linear", "x1": 0, "y1": 0, "x2": 1.3, "y2": 0, "stops": [
              {"offset":0,"color":"#000"},{"offset":0.05,"color":"#fff"},{"offset":0.1,"color":"#000"},{"offset":0.15,"color":"#fff"},{"offset":0.2,"color":"#000"},{"offset":0.25,"color":"#fff"},{"offset":0.3,"color":"#000"},{"offset":0.35,"color":"#fff"},{"offset":0.4,"color":"#000"},{"offset":0.45,"color":"#fff"},
              {"offset":0.5,"color":"#000"},{"offset":0.55,"color":"#fff"},{"offset":0.6,"color":"#000"},{"offset":0.65,"color":"#fff"},{"offset":0.7,"color":"#000"},{"offset":0.75,"color":"#fff"},{"offset":0.8,"color":"#000"}
            ]}}, "encoding": {"y": {"field": "mean", "type": "quantitative", "scale": {"domain": [0, 80]}, "title": "Supersac intake (ml/kg)"}}},
            {"transform": [{"filter": "datum.dose == '150'"}], "mark": {"type": "bar", "blend": "difference", "fill": {"gradient": "linear", "x1": 0, "y1": 0, "x2": 0, "y2": 2.324, "stops": [
              {"offset":0,"color":"#000"},{"offset":0.01,"color":"#ddd"},{"offset":0.02,"color":"#000"},{"offset":0.03,"color":"#ddd"},{"offset":0.04,"color":"#000"},{"offset":0.05,"color":"#ddd"},{"offset":0.06,"color":"#000"},{"offset":0.07,"color":"#ddd"},{"offset":0.08,"color":"#000"},{"offset":0.09,"color":"#ddd"},
              {"offset":0.1,"color":"#000"},{"offset":0.11,"color":"#ddd"},{"offset":0.12,"color":"#000"},{"offset":0.13,"color":"#ddd"},{"offset":0.14,"color":"#000"},{"offset":0.15,"color":"#ddd"},{"offset":0.16,"color":"#000"},{"offset":0.17,"color":"#ddd"},{"offset":0.18,"color":"#000"},{"offset":0.19,"color":"#ddd"},
              {"offset":0.2,"color":"#000"},{"offset":0.21,"color":"#ddd"},{"offset":0.22,"color":"#000"},{"offset":0.23,"color":"#ddd"},{"offset":0.24,"color":"#000"},{"offset":0.25,"color":"#ddd"},{"offset":0.26,"color":"#000"},{"offset":0.27,"color":"#ddd"},{"offset":0.28,"color":"#000"},{"offset":0.29,"color":"#ddd"},
              {"offset":0.3,"color":"#000"},{"offset":0.31,"color":"#ddd"},{"offset":0.32,"color":"#000"},{"offset":0.33,"color":"#ddd"},{"offset":0.34,"color":"#000"},{"offset":0.35,"color":"#ddd"},{"offset":0.36,"color":"#000"},{"offset":0.37,"color":"#ddd"},{"offset":0.38,"color":"#000"},{"offset":0.39,"color":"#ddd"},
              {"offset":0.4,"color":"#000"},{"offset":0.41,"color":"#ddd"},{"offset":0.42,"color":"#000"},{"offset":0.43,"color":"#ddd"},{"offset":0.44,"color":"#000"}
            ]}}, "encoding": {"y": {"field": "mean", "type": "quantitative", "scale": {"domain": [0, 80]}, "title": "Supersac intake (ml/kg)"}}},
            {"transform": [{"filter": "datum.dose == '150'"}], "mark": {"type": "bar", "stroke": "#333", "strokeWidth": 1.3, "fillOpacity": 0}, "encoding": {"y": {"field": "mean", "type": "quantitative", "scale": {"domain": [0, 80]}, "title": "Supersac intake (ml/kg)"}}},
            {"transform": [{"filter": "datum.star != ''"}], "mark": {"type": "text", "color": "#666", "fontSize": 17, "dy": -3, "baseline": "alphabetic"}, "encoding": {"y": {"field": "upper", "type": "quantitative", "scale": {"domain": [0, 80]}, "title": "Supersac intake (ml/kg)"}, "text": {"field": "star"}}}
          ]
        }
      ]
    },
    {
      "spacing": 26,
      "resolve": {"scale": {"fill": "independent"}},
      "hconcat": [
        {
          "width": 271, "height": 178,
          "title": {"text": "(c)"},
          "data": {"name": "c_eth"},
          "encoding": {"x": {"field": "dose", "type": "ordinal", "sort": null, "title": "Dose of MPZP (mg/kg)", "scale": {"paddingInner": 0.33, "paddingOuter": 0.18}}},
          "layer": [
            {"mark": {"type": "rule", "color": "#333", "strokeWidth": 1.3}, "encoding": {"y": {"field": "mean", "type": "quantitative", "scale": {"domain": [0, 2]}, "title": "Ethanol intake (g/kg)"}, "y2": {"field": "upper"}}},
            {"mark": {"type": "tick", "color": "#333", "thickness": 1.3, "size": 23}, "encoding": {"y": {"field": "upper", "type": "quantitative", "scale": {"domain": [0, 2]}, "title": "Ethanol intake (g/kg)"}}},
            {"mark": {"type": "bar", "stroke": "#333", "strokeWidth": 1.3}, "encoding": {"y": {"field": "mean", "type": "quantitative", "scale": {"domain": [0, 2]}, "title": "Ethanol intake (g/kg)", "axis": {"values": [0, 0.5, 1, 1.5, 2], "format": ".1f"}}, "fill": {"field": "dose", "type": "nominal", "sort": null, "scale": {"range": ["#ffffff", "#a0a0a0", "#6b6b6b", "#111111"]}, "legend": null}}},
            {"transform": [{"filter": "datum.dose == '5'"}], "mark": {"type": "bar", "stroke": "#333", "strokeWidth": 1.3, "fill": {"gradient": "linear", "x1": 0, "y1": 0, "x2": 1.942, "y2": 0.890, "stops": [
              {"offset":0,"color":"#fff"},{"offset":0.01,"color":"#333"},{"offset":0.02,"color":"#fff"},{"offset":0.03,"color":"#333"},{"offset":0.04,"color":"#fff"},{"offset":0.05,"color":"#333"},{"offset":0.06,"color":"#fff"},{"offset":0.07,"color":"#333"},{"offset":0.08,"color":"#fff"},{"offset":0.09,"color":"#333"},
              {"offset":0.1,"color":"#fff"},{"offset":0.11,"color":"#333"},{"offset":0.12,"color":"#fff"},{"offset":0.13,"color":"#333"},{"offset":0.14,"color":"#fff"},{"offset":0.15,"color":"#333"},{"offset":0.16,"color":"#fff"},{"offset":0.17,"color":"#333"},{"offset":0.18,"color":"#fff"},{"offset":0.19,"color":"#333"},
              {"offset":0.2,"color":"#fff"},{"offset":0.21,"color":"#333"},{"offset":0.22,"color":"#fff"},{"offset":0.23,"color":"#333"},{"offset":0.24,"color":"#fff"},{"offset":0.25,"color":"#333"},{"offset":0.26,"color":"#fff"},{"offset":0.27,"color":"#333"},{"offset":0.28,"color":"#fff"},{"offset":0.29,"color":"#333"},
              {"offset":0.3,"color":"#fff"},{"offset":0.31,"color":"#333"},{"offset":0.32,"color":"#fff"},{"offset":0.33,"color":"#333"},{"offset":0.34,"color":"#fff"},{"offset":0.35,"color":"#333"},{"offset":0.36,"color":"#fff"},{"offset":0.37,"color":"#333"},{"offset":0.38,"color":"#fff"},{"offset":0.39,"color":"#333"},
              {"offset":0.4,"color":"#fff"},{"offset":0.41,"color":"#333"},{"offset":0.42,"color":"#fff"},{"offset":0.43,"color":"#333"},{"offset":0.44,"color":"#fff"},{"offset":0.45,"color":"#333"},{"offset":0.46,"color":"#fff"},{"offset":0.47,"color":"#333"},{"offset":0.48,"color":"#fff"},{"offset":0.49,"color":"#333"},
              {"offset":0.5,"color":"#fff"},{"offset":0.51,"color":"#333"},{"offset":0.52,"color":"#fff"},{"offset":0.53,"color":"#333"},{"offset":0.54,"color":"#fff"},{"offset":0.55,"color":"#333"},{"offset":0.56,"color":"#fff"},{"offset":0.57,"color":"#333"},{"offset":0.58,"color":"#fff"},{"offset":0.59,"color":"#333"},
              {"offset":0.6,"color":"#fff"},{"offset":0.61,"color":"#333"},{"offset":0.62,"color":"#fff"},{"offset":0.63,"color":"#333"},{"offset":0.64,"color":"#fff"},{"offset":0.65,"color":"#333"},{"offset":0.66,"color":"#fff"},{"offset":0.67,"color":"#333"},{"offset":0.68,"color":"#fff"},{"offset":0.69,"color":"#333"},
              {"offset":0.7,"color":"#fff"},{"offset":0.71,"color":"#333"},{"offset":0.72,"color":"#fff"},{"offset":0.73,"color":"#333"},{"offset":0.74,"color":"#fff"},{"offset":0.75,"color":"#333"},{"offset":0.76,"color":"#fff"},{"offset":0.77,"color":"#333"},{"offset":0.78,"color":"#fff"},{"offset":0.79,"color":"#333"},
              {"offset":0.8,"color":"#fff"},{"offset":0.81,"color":"#333"},{"offset":0.82,"color":"#fff"},{"offset":0.83,"color":"#333"},{"offset":0.84,"color":"#fff"}
            ]}}, "encoding": {"y": {"field": "mean", "type": "quantitative", "scale": {"domain": [0, 2]}, "title": "Ethanol intake (g/kg)"}}},
            {"transform": [{"filter": "datum.dose == '10'"}], "mark": {"type": "bar", "stroke": "#333", "strokeWidth": 1.3, "fill": {"gradient": "linear", "x1": 0, "y1": 0, "x2": 1, "y2": 0, "stops": [
              {"offset":0,"color":"#000"},{"offset":0.05,"color":"#fff"},{"offset":0.1,"color":"#000"},{"offset":0.15,"color":"#fff"},{"offset":0.2,"color":"#000"},{"offset":0.25,"color":"#fff"},{"offset":0.3,"color":"#000"},{"offset":0.35,"color":"#fff"},{"offset":0.4,"color":"#000"},{"offset":0.45,"color":"#fff"},
              {"offset":0.5,"color":"#000"},{"offset":0.55,"color":"#fff"},{"offset":0.6,"color":"#000"},{"offset":0.65,"color":"#fff"},{"offset":0.7,"color":"#000"},{"offset":0.75,"color":"#fff"},{"offset":0.8,"color":"#000"},{"offset":0.85,"color":"#fff"},{"offset":0.9,"color":"#000"},{"offset":0.95,"color":"#fff"},{"offset":1,"color":"#000"}
            ]}}, "encoding": {"y": {"field": "mean", "type": "quantitative", "scale": {"domain": [0, 2]}, "title": "Ethanol intake (g/kg)"}}},
            {"transform": [{"filter": "datum.dose == '10'"}], "mark": {"type": "bar", "blend": "difference", "fill": {"gradient": "linear", "x1": 0, "y1": 0, "x2": 0, "y2": 2.598, "stops": [
              {"offset":0,"color":"#000"},{"offset":0.01,"color":"#ddd"},{"offset":0.02,"color":"#000"},{"offset":0.03,"color":"#ddd"},{"offset":0.04,"color":"#000"},{"offset":0.05,"color":"#ddd"},{"offset":0.06,"color":"#000"},{"offset":0.07,"color":"#ddd"},{"offset":0.08,"color":"#000"},{"offset":0.09,"color":"#ddd"},
              {"offset":0.1,"color":"#000"},{"offset":0.11,"color":"#ddd"},{"offset":0.12,"color":"#000"},{"offset":0.13,"color":"#ddd"},{"offset":0.14,"color":"#000"},{"offset":0.15,"color":"#ddd"},{"offset":0.16,"color":"#000"},{"offset":0.17,"color":"#ddd"},{"offset":0.18,"color":"#000"},{"offset":0.19,"color":"#ddd"},
              {"offset":0.2,"color":"#000"},{"offset":0.21,"color":"#ddd"},{"offset":0.22,"color":"#000"},{"offset":0.23,"color":"#ddd"},{"offset":0.24,"color":"#000"},{"offset":0.25,"color":"#ddd"},{"offset":0.26,"color":"#000"},{"offset":0.27,"color":"#ddd"},{"offset":0.28,"color":"#000"},{"offset":0.29,"color":"#ddd"},
              {"offset":0.3,"color":"#000"},{"offset":0.31,"color":"#ddd"},{"offset":0.32,"color":"#000"},{"offset":0.33,"color":"#ddd"},{"offset":0.34,"color":"#000"},{"offset":0.35,"color":"#ddd"},{"offset":0.36,"color":"#000"},{"offset":0.37,"color":"#ddd"},{"offset":0.38,"color":"#000"},{"offset":0.39,"color":"#ddd"},
              {"offset":0.4,"color":"#000"}
            ]}}, "encoding": {"y": {"field": "mean", "type": "quantitative", "scale": {"domain": [0, 2]}, "title": "Ethanol intake (g/kg)"}}},
            {"transform": [{"filter": "datum.dose == '10'"}], "mark": {"type": "bar", "stroke": "#333", "strokeWidth": 1.3, "fillOpacity": 0}, "encoding": {"y": {"field": "mean", "type": "quantitative", "scale": {"domain": [0, 2]}, "title": "Ethanol intake (g/kg)"}}}
          ]
        },
        {
          "width": 266, "height": 178,
          "title": {"text": " "},
          "data": {"name": "c_sup"},
          "encoding": {"x": {"field": "dose", "type": "ordinal", "sort": null, "title": "Dose of MPZP (mg/kg)", "scale": {"paddingInner": 0.33, "paddingOuter": 0.18}}},
          "layer": [
            {"mark": {"type": "rule", "color": "#333", "strokeWidth": 1.3}, "encoding": {"y": {"field": "mean", "type": "quantitative", "scale": {"domain": [0, 80]}, "title": "Supersac intake (ml/kg)"}, "y2": {"field": "upper"}}},
            {"mark": {"type": "tick", "color": "#333", "thickness": 1.3, "size": 23}, "encoding": {"y": {"field": "upper", "type": "quantitative", "scale": {"domain": [0, 80]}, "title": "Supersac intake (ml/kg)"}}},
            {"mark": {"type": "bar", "stroke": "#333", "strokeWidth": 1.3}, "encoding": {"y": {"field": "mean", "type": "quantitative", "scale": {"domain": [0, 80]}, "title": "Supersac intake (ml/kg)", "axis": {"values": [0, 20, 40, 60, 80]}}, "fill": {"field": "dose", "type": "nominal", "sort": null, "scale": {"range": ["#ffffff", "#a0a0a0", "#6b6b6b", "#111111"]}, "legend": null}}},
            {"transform": [{"filter": "datum.dose == '5'"}], "mark": {"type": "bar", "stroke": "#333", "strokeWidth": 1.3, "fill": {"gradient": "linear", "x1": 0, "y1": 0, "x2": 2.475, "y2": 0.757, "stops": [
              {"offset":0,"color":"#fff"},{"offset":0.008,"color":"#333"},{"offset":0.016,"color":"#fff"},{"offset":0.024,"color":"#333"},{"offset":0.032,"color":"#fff"},{"offset":0.04,"color":"#333"},{"offset":0.048,"color":"#fff"},{"offset":0.056,"color":"#333"},{"offset":0.064,"color":"#fff"},{"offset":0.072,"color":"#333"},
              {"offset":0.08,"color":"#fff"},{"offset":0.088,"color":"#333"},{"offset":0.096,"color":"#fff"},{"offset":0.104,"color":"#333"},{"offset":0.112,"color":"#fff"},{"offset":0.12,"color":"#333"},{"offset":0.128,"color":"#fff"},{"offset":0.136,"color":"#333"},{"offset":0.144,"color":"#fff"},{"offset":0.152,"color":"#333"},
              {"offset":0.16,"color":"#fff"},{"offset":0.168,"color":"#333"},{"offset":0.176,"color":"#fff"},{"offset":0.184,"color":"#333"},{"offset":0.192,"color":"#fff"},{"offset":0.2,"color":"#333"},{"offset":0.208,"color":"#fff"},{"offset":0.216,"color":"#333"},{"offset":0.224,"color":"#fff"},{"offset":0.232,"color":"#333"},
              {"offset":0.24,"color":"#fff"},{"offset":0.248,"color":"#333"},{"offset":0.256,"color":"#fff"},{"offset":0.264,"color":"#333"},{"offset":0.272,"color":"#fff"},{"offset":0.28,"color":"#333"},{"offset":0.288,"color":"#fff"},{"offset":0.296,"color":"#333"},{"offset":0.304,"color":"#fff"},{"offset":0.312,"color":"#333"},
              {"offset":0.32,"color":"#fff"},{"offset":0.328,"color":"#333"},{"offset":0.336,"color":"#fff"},{"offset":0.344,"color":"#333"},{"offset":0.352,"color":"#fff"},{"offset":0.36,"color":"#333"},{"offset":0.368,"color":"#fff"},{"offset":0.376,"color":"#333"},{"offset":0.384,"color":"#fff"},{"offset":0.392,"color":"#333"},
              {"offset":0.4,"color":"#fff"},{"offset":0.408,"color":"#333"},{"offset":0.416,"color":"#fff"},{"offset":0.424,"color":"#333"},{"offset":0.432,"color":"#fff"},{"offset":0.44,"color":"#333"},{"offset":0.448,"color":"#fff"},{"offset":0.456,"color":"#333"},{"offset":0.464,"color":"#fff"},{"offset":0.472,"color":"#333"},
              {"offset":0.48,"color":"#fff"},{"offset":0.488,"color":"#333"},{"offset":0.496,"color":"#fff"},{"offset":0.504,"color":"#333"},{"offset":0.512,"color":"#fff"},{"offset":0.52,"color":"#333"},{"offset":0.528,"color":"#fff"},{"offset":0.536,"color":"#333"},{"offset":0.544,"color":"#fff"},{"offset":0.552,"color":"#333"},
              {"offset":0.56,"color":"#fff"},{"offset":0.568,"color":"#333"},{"offset":0.576,"color":"#fff"},{"offset":0.584,"color":"#333"},{"offset":0.592,"color":"#fff"},{"offset":0.6,"color":"#333"},{"offset":0.608,"color":"#fff"},{"offset":0.616,"color":"#333"},{"offset":0.624,"color":"#fff"},{"offset":0.632,"color":"#333"},
              {"offset":0.64,"color":"#fff"},{"offset":0.648,"color":"#333"},{"offset":0.656,"color":"#fff"},{"offset":0.664,"color":"#333"},{"offset":0.672,"color":"#fff"},{"offset":0.68,"color":"#333"},{"offset":0.688,"color":"#fff"},{"offset":0.696,"color":"#333"},{"offset":0.704,"color":"#fff"},{"offset":0.712,"color":"#333"},
              {"offset":0.72,"color":"#fff"},{"offset":0.728,"color":"#333"},{"offset":0.736,"color":"#fff"},{"offset":0.744,"color":"#333"},{"offset":0.752,"color":"#fff"},{"offset":0.76,"color":"#333"},{"offset":0.768,"color":"#fff"},{"offset":0.776,"color":"#333"},{"offset":0.784,"color":"#fff"},{"offset":0.792,"color":"#333"},
              {"offset":0.8,"color":"#fff"},{"offset":0.808,"color":"#333"},{"offset":0.816,"color":"#fff"},{"offset":0.824,"color":"#333"},{"offset":0.832,"color":"#fff"},{"offset":0.84,"color":"#333"},{"offset":0.848,"color":"#fff"},{"offset":0.856,"color":"#333"},{"offset":0.864,"color":"#fff"},{"offset":0.872,"color":"#333"},
              {"offset":0.88,"color":"#fff"},{"offset":0.888,"color":"#333"},{"offset":0.896,"color":"#fff"},{"offset":0.904,"color":"#333"},{"offset":0.912,"color":"#fff"},{"offset":0.92,"color":"#333"},{"offset":0.928,"color":"#fff"},{"offset":0.936,"color":"#333"},{"offset":0.944,"color":"#fff"},{"offset":0.952,"color":"#333"}
            ]}}, "encoding": {"y": {"field": "mean", "type": "quantitative", "scale": {"domain": [0, 80]}, "title": "Supersac intake (ml/kg)"}}},
            {"transform": [{"filter": "datum.dose == '10'"}], "mark": {"type": "bar", "stroke": "#333", "strokeWidth": 1.3, "fill": {"gradient": "linear", "x1": 0, "y1": 0, "x2": 1, "y2": 0, "stops": [
              {"offset":0,"color":"#000"},{"offset":0.05,"color":"#fff"},{"offset":0.1,"color":"#000"},{"offset":0.15,"color":"#fff"},{"offset":0.2,"color":"#000"},{"offset":0.25,"color":"#fff"},{"offset":0.3,"color":"#000"},{"offset":0.35,"color":"#fff"},{"offset":0.4,"color":"#000"},{"offset":0.45,"color":"#fff"},
              {"offset":0.5,"color":"#000"},{"offset":0.55,"color":"#fff"},{"offset":0.6,"color":"#000"},{"offset":0.65,"color":"#fff"},{"offset":0.7,"color":"#000"},{"offset":0.75,"color":"#fff"},{"offset":0.8,"color":"#000"},{"offset":0.85,"color":"#fff"},{"offset":0.9,"color":"#000"},{"offset":0.95,"color":"#fff"},{"offset":1,"color":"#000"}
            ]}}, "encoding": {"y": {"field": "mean", "type": "quantitative", "scale": {"domain": [0, 80]}, "title": "Supersac intake (ml/kg)"}}},
            {"transform": [{"filter": "datum.dose == '10'"}], "mark": {"type": "bar", "blend": "difference", "fill": {"gradient": "linear", "x1": 0, "y1": 0, "x2": 0, "y2": 1.694, "stops": [
              {"offset":0,"color":"#000"},{"offset":0.01,"color":"#ddd"},{"offset":0.02,"color":"#000"},{"offset":0.03,"color":"#ddd"},{"offset":0.04,"color":"#000"},{"offset":0.05,"color":"#ddd"},{"offset":0.06,"color":"#000"},{"offset":0.07,"color":"#ddd"},{"offset":0.08,"color":"#000"},{"offset":0.09,"color":"#ddd"},
              {"offset":0.1,"color":"#000"},{"offset":0.11,"color":"#ddd"},{"offset":0.12,"color":"#000"},{"offset":0.13,"color":"#ddd"},{"offset":0.14,"color":"#000"},{"offset":0.15,"color":"#ddd"},{"offset":0.16,"color":"#000"},{"offset":0.17,"color":"#ddd"},{"offset":0.18,"color":"#000"},{"offset":0.19,"color":"#ddd"},
              {"offset":0.2,"color":"#000"},{"offset":0.21,"color":"#ddd"},{"offset":0.22,"color":"#000"},{"offset":0.23,"color":"#ddd"},{"offset":0.24,"color":"#000"},{"offset":0.25,"color":"#ddd"},{"offset":0.26,"color":"#000"},{"offset":0.27,"color":"#ddd"},{"offset":0.28,"color":"#000"},{"offset":0.29,"color":"#ddd"},
              {"offset":0.3,"color":"#000"},{"offset":0.31,"color":"#ddd"},{"offset":0.32,"color":"#000"},{"offset":0.33,"color":"#ddd"},{"offset":0.34,"color":"#000"},{"offset":0.35,"color":"#ddd"},{"offset":0.36,"color":"#000"},{"offset":0.37,"color":"#ddd"},{"offset":0.38,"color":"#000"},{"offset":0.39,"color":"#ddd"},
              {"offset":0.4,"color":"#000"},{"offset":0.41,"color":"#ddd"},{"offset":0.42,"color":"#000"},{"offset":0.43,"color":"#ddd"},{"offset":0.44,"color":"#000"},{"offset":0.45,"color":"#ddd"},{"offset":0.46,"color":"#000"},{"offset":0.47,"color":"#ddd"},{"offset":0.48,"color":"#000"},{"offset":0.49,"color":"#ddd"},
              {"offset":0.5,"color":"#000"},{"offset":0.51,"color":"#ddd"},{"offset":0.52,"color":"#000"},{"offset":0.53,"color":"#ddd"},{"offset":0.54,"color":"#000"},{"offset":0.55,"color":"#ddd"},{"offset":0.56,"color":"#000"},{"offset":0.57,"color":"#ddd"},{"offset":0.58,"color":"#000"},{"offset":0.59,"color":"#ddd"},
              {"offset":0.6,"color":"#000"}
            ]}}, "encoding": {"y": {"field": "mean", "type": "quantitative", "scale": {"domain": [0, 80]}, "title": "Supersac intake (ml/kg)"}}},
            {"transform": [{"filter": "datum.dose == '10'"}], "mark": {"type": "bar", "stroke": "#333", "strokeWidth": 1.3, "fillOpacity": 0}, "encoding": {"y": {"field": "mean", "type": "quantitative", "scale": {"domain": [0, 80]}, "title": "Supersac intake (ml/kg)"}}}
          ]
        }
      ]
    }
  ]
}
